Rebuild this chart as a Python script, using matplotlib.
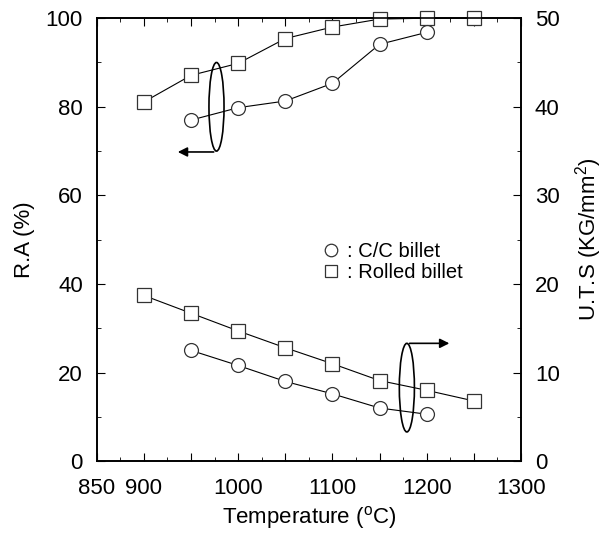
import matplotlib
matplotlib.use("Agg")
import matplotlib.pyplot as plt
from matplotlib.patches import Ellipse
from matplotlib.lines import Line2D

plt.rcParams["font.family"] = ["Liberation Sans", "DejaVu Sans"]
plt.rcParams["mathtext.fontset"] = "custom"
plt.rcParams["mathtext.rm"] = "Liberation Sans"

# R.A (%) - left axis
ra_cc_temp = [950, 1000, 1050, 1100, 1150, 1200]
ra_cc = [77.0, 79.8, 81.3, 85.3, 94.1, 96.8]
ra_rolled_temp = [900, 950, 1000, 1050, 1100, 1150, 1200, 1250]
ra_rolled = [81.1, 87.1, 89.8, 95.4, 98.0, 99.8, 100.0, 100.0]

# U.T.S (KG/mm2) - right axis
uts_cc_temp = [950, 1000, 1050, 1100, 1150, 1200]
uts_cc = [12.5, 10.8, 9.0, 7.6, 6.0, 5.3]
uts_rolled_temp = [900, 950, 1000, 1050, 1100, 1150, 1200, 1250]
uts_rolled = [18.7, 16.7, 14.7, 12.8, 11.0, 9.1, 8.0, 6.8]

x_labels = [850, 900, 1000, 1100, 1200, 1300]

fig = plt.figure(figsize=(6.05, 5.35), dpi=100)
ax = fig.add_axes([0.160, 0.138, 0.701, 0.828])
ax2 = ax.twinx()

circ = dict(marker="o", ms=10, mfc="white", mec="#333333", mew=0.9,
            color="black", lw=0.8)
sq = dict(marker="s", ms=9.4, mfc="white", mec="#333333", mew=0.9,
          color="black", lw=0.8)

ax.plot(ra_rolled_temp, ra_rolled, clip_on=False, zorder=3, **sq)
ax.plot(ra_cc_temp, ra_cc, clip_on=False, zorder=3, **circ)
ax2.plot(uts_rolled_temp, uts_rolled, clip_on=False, zorder=3, **sq)
ax2.plot(uts_cc_temp, uts_cc, clip_on=False, zorder=3, **circ)

ax.set_xlim(850, 1300)
ax.set_ylim(0, 100)
ax2.set_ylim(0, 50)

ax.set_xticks(range(850, 1301, 50))
ax.set_xticklabels([str(v) if v in x_labels else "" for v in range(850, 1301, 50)])
ax.set_xticks(range(875, 1300, 50), minor=True)
ax.set_yticks(range(0, 101, 20))
ax.set_yticks(range(10, 100, 20), minor=True)
ax2.set_yticks(range(0, 51, 10))
ax2.set_yticks(range(5, 50, 10), minor=True)

ax.tick_params(which="both", direction="in", top=True, right=False,
               labelsize=16, pad=10)
ax.tick_params(axis="x", pad=12)
ax.tick_params(which="major", length=6)
ax.tick_params(which="minor", length=3)
ax2.tick_params(which="both", direction="in", labelsize=16, pad=10)
ax2.tick_params(which="major", length=6)
ax2.tick_params(which="minor", length=3)

for a in (ax, ax2):
    for s in a.spines.values():
        s.set_linewidth(1.2)

ax.set_xlabel(r"Temperature ($^{\rm o}$C)", fontsize=16, labelpad=4)
ax.set_ylabel("R.A (%)", fontsize=16, labelpad=8)
ax2.set_ylabel(r"U.T.S (KG/mm$^2$)", fontsize=16, labelpad=10)

# ellipse + arrow markers pointing to the relevant axis
ax.add_patch(Ellipse((977, 80), 16, 20, fill=False, ec="black", lw=1.2))
ax.annotate("", xy=(933, 69.8), xytext=(977, 69.8),
            arrowprops=dict(arrowstyle="-|>", color="black", lw=1.2,
                            mutation_scale=14))
ax2.add_patch(Ellipse((1179, 8.3), 16, 10, fill=False, ec="black", lw=1.2))
ax2.annotate("", xy=(1227, 13.3), xytext=(1179, 13.3),
             arrowprops=dict(arrowstyle="-|>", color="black", lw=1.2,
                             mutation_scale=14))

handles = [Line2D([], [], ls="none", marker="o", ms=9, mfc="white", mec="#333333", mew=0.9),
           Line2D([], [], ls="none", marker="s", ms=9, mfc="white", mec="#333333", mew=0.9)]
ax2.legend(handles, [": C/C billet", ": Rolled billet"], loc="upper left",
           bbox_to_anchor=(0.49, 0.535), frameon=False, fontsize=14.5,
           handlelength=0.8, handletextpad=0.4, labelspacing=0.1)

fig.savefig("out.png", dpi=100)
